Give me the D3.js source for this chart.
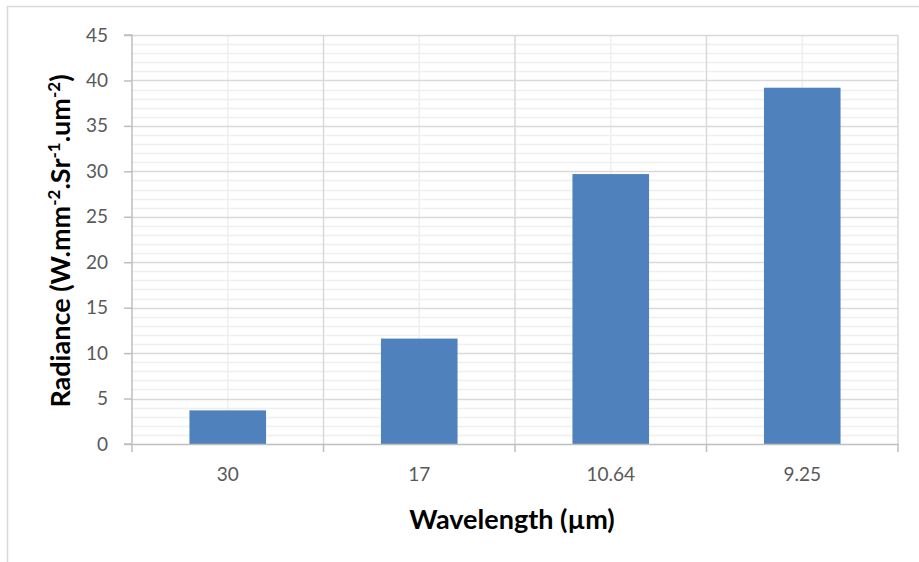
<!DOCTYPE html>
<html><head><meta charset="utf-8">
<script src="https://cdn.jsdelivr.net/npm/d3@7"></script>
<style>body{margin:0;background:#fff}svg{display:block}text{font-family:Lato,sans-serif}</style>
</head><body>
<svg id="c" width="919" height="562"></svg>
<script>
const categories = ["30", "17", "10.64", "9.25"];
const values = [3.7, 11.6, 29.7, 39.2];
const yTicks = [0, 5, 10, 15, 20, 25, 30, 35, 40, 45];
const yMinor = d3.range(0, 46, 1);

const svg = d3.select("#c");
const m = {l: 132, r: 898, t: 35, b: 444};
const FONT = "Lato, sans-serif";

// outer border
svg.append("path").attr("d", "M7.5,562 L7.5,6.5 L919,6.5").attr("fill","none").attr("stroke","#d9d9d9").attr("stroke-width",1.5);

const x = d3.scaleBand().domain(categories).range([m.l, m.r]).paddingInner(0.6).paddingOuter(0.3);
const xb = d3.scaleBand().domain(categories).range([m.l, m.r]);
const y = d3.scaleLinear().domain([0, 45]).range([m.b, m.t]);

const g = svg.append("g");
g.selectAll(".hm").data(yMinor.filter(v => v % 5 !== 0)).join("line")
 .attr("x1", m.l).attr("x2", m.r).attr("y1", d => Math.round(y(d))+0.5).attr("y2", d => Math.round(y(d))+0.5)
 .attr("stroke", "#efefef").attr("stroke-width", 1.5);
g.selectAll(".vm").data(categories).join("line")
 .attr("x1", d => xb(d)+xb.bandwidth()/2).attr("x2", d => xb(d)+xb.bandwidth()/2).attr("y1", m.t).attr("y2", m.b)
 .attr("stroke", "#efefef").attr("stroke-width", 1.5);
g.selectAll(".hM").data(yTicks.filter(v => v > 0)).join("line")
 .attr("x1", m.l).attr("x2", m.r).attr("y1", d => Math.round(y(d))+0.5).attr("y2", d => Math.round(y(d))+0.5)
 .attr("stroke", "#d9d9d9").attr("stroke-width", 1.5);
g.selectAll(".vM").data(categories).join("line")
 .attr("x1", d => xb(d)+xb.bandwidth()).attr("x2", d => xb(d)+xb.bandwidth()).attr("y1", m.t).attr("y2", m.b)
 .attr("stroke", "#d9d9d9").attr("stroke-width", 1.5);

// bars
svg.selectAll(".bar").data(values).join("rect")
 .attr("x", (d,i) => x(categories[i])).attr("width", x.bandwidth())
 .attr("y", d => y(d)).attr("height", d => y(0) - y(d))
 .attr("fill", "#4f81bd");

// y axis
const ya = svg.append("g").attr("transform", `translate(${m.l},0)`)
 .call(d3.axisLeft(y).tickValues(yTicks).tickSize(8).tickPadding(16).tickFormat(d3.format("d")));
ya.select(".domain").attr("stroke", "#bfbfbf").attr("stroke-width", 1.5).attr("d", `M-8,${m.t}H0V${m.b}H-8`);
ya.selectAll(".tick line").attr("stroke", "#bfbfbf").attr("stroke-width", 1.5);
ya.selectAll(".tick text").attr("fill", "#595959").style("font-size", "19px").style("font-family", FONT);

// x axis
const xa = svg.append("g").attr("transform", `translate(0,${m.b})`)
 .call(d3.axisBottom(xb).tickSize(0).tickPadding(24));
xa.select(".domain").attr("stroke", "#bfbfbf").attr("stroke-width", 1.5);
xa.selectAll(".tick text").attr("fill", "#595959").style("font-size", "19px").style("font-family", FONT);
svg.append("g").selectAll("line").data([m.l].concat(categories.map(c => xb(c)+xb.bandwidth()))).join("line")
 .attr("x1", d => d).attr("x2", d => d).attr("y1", m.b).attr("y2", m.b+8)
 .attr("stroke", "#bfbfbf").attr("stroke-width", 1.5);

// axis titles
svg.append("text").attr("x", 512).attr("y", 529).attr("text-anchor", "middle")
 .style("font-size", "27px").style("font-weight", "bold").style("font-family", FONT).attr("fill", "#000").text("Wavelength (µm)");

const yt = svg.append("text").attr("transform", `translate(70,241) rotate(-90)`).attr("text-anchor", "middle")
 .style("font-size", "27px").style("font-weight", "bold").style("font-family", FONT).attr("fill", "#000");
const parts = [["Radiance (W.mm", false], ["-2", true], [".Sr", false], ["-1", true], [".um", false], ["-2", true], [")", false]];
parts.forEach(([t, sup], i) => {
  const ts = yt.append("tspan").text(t);
  if (sup) ts.style("font-size", "17px").attr("dy", -10);
  else if (i > 0) ts.attr("dy", 10);
});
</script>
</body></html>
